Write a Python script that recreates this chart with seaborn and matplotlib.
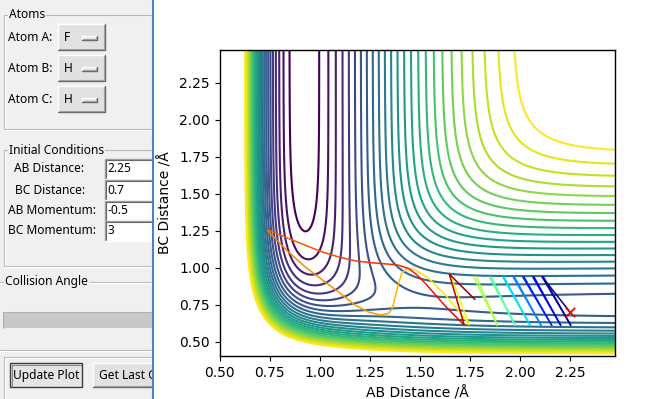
import numpy as np
import matplotlib
matplotlib.use("Agg")
import matplotlib.pyplot as plt
import seaborn as sns
from matplotlib.collections import LineCollection
from matplotlib.patches import Rectangle

# ---------------- data ----------------
# LEPS parameters (kJ/mol, Angstrom)
pair_names = ["HF", "HH", "HF"]          # AB, BC, AC
morse_D = {"HH": 432.07, "HF": 566.0}
morse_beta = {"HH": 1.942, "HF": 2.2187}
morse_re = {"HH": 0.7414, "HF": 0.9168}
sato = {"HH": 0.22, "HF": 0.12}
contour_levels = list(np.linspace(-551.0, -105.6, 25))

# trajectory (AB distance, BC distance, time fraction); nan separates loops
traj_ab = [2.25, 2.110, 2.255, 2.116, np.nan,
           2.063, 2.205, 2.069, np.nan,
           2.013, 2.160, 2.019, np.nan,
           1.965, 2.107, 1.971, np.nan,
           1.913, 2.052, 1.919, np.nan,
           1.847, 1.977, 1.855, np.nan,
           1.768, 1.888, 1.782, np.nan,
           1.652, 1.747, 1.710, 1.627, 1.543, 1.477, 1.435,
           1.410, 1.393, 1.377, 1.363, 1.343, 1.302, 1.243, 1.177, 1.093, 1.010, 0.927, 0.843, 0.777, 0.743, 0.737,
           0.752, 0.843, 0.927, 1.010, 1.093, 1.177, 1.260, 1.343, 1.393, 1.443, 1.485, 1.530, 1.627, 1.700, 1.722,
           1.647, 1.777]
traj_bc = [0.70, 0.940, 0.607, 0.940, np.nan,
           0.940, 0.607, 0.940, np.nan,
           0.940, 0.607, 0.940, np.nan,
           0.940, 0.607, 0.940, np.nan,
           0.940, 0.607, 0.940, np.nan,
           0.940, 0.607, 0.940, np.nan,
           0.940, 0.607, 0.940, np.nan,
           0.951, 0.612, 0.680, 0.816, 0.929, 0.985, 0.997,
           0.961, 0.893, 0.802, 0.724, 0.690, 0.680, 0.700, 0.746, 0.836, 0.920, 1.005, 1.107, 1.198, 1.243, 1.254,
           1.249, 1.198, 1.152, 1.107, 1.073, 1.046, 1.033, 1.024, 1.017, 0.995, 0.952, 0.890, 0.740, 0.640, 0.611,
           0.956, 0.782]
traj_t = [0.00, 0.02, 0.03, 0.04, np.nan,
          0.10, 0.10, 0.10, np.nan,
          0.16, 0.16, 0.16, np.nan,
          0.25, 0.25, 0.25, np.nan,
          0.34, 0.34, 0.34, np.nan,
          0.45, 0.45, 0.45, np.nan,
          0.56, 0.56, 0.56, np.nan,
          0.62, 0.64, 0.65, 0.66, 0.67, 0.68, 0.69,
          0.70, 0.71, 0.72, 0.73, 0.74, 0.745, 0.75, 0.755, 0.76, 0.765, 0.77, 0.775, 0.78, 0.785, 0.79,
          0.80, 0.81, 0.82, 0.83, 0.84, 0.85, 0.86, 0.87, 0.875, 0.88, 0.885, 0.89, 0.90, 0.91, 0.92,
          0.96, 1.00]
start_point = (2.25, 0.70)

x_ticks = [0.50, 0.75, 1.00, 1.25, 1.50, 1.75, 2.00, 2.25]
y_ticks = [0.50, 0.75, 1.00, 1.25, 1.50, 1.75, 2.00, 2.25]

# ---------------- surface ----------------
def pair_terms(r, name):
    D, b, re, S = morse_D[name], morse_beta[name], morse_re[name], sato[name]
    e = np.exp(-b * (r - re))
    Q = D / (4 * (1 + S)) * ((3 + S) * e ** 2 - (2 + 6 * S) * e)
    J = D / (4 * (1 + S)) * ((1 + 3 * S) * e ** 2 - (6 + 2 * S) * e)
    return Q, J

ab = np.linspace(0.5, 2.475, 500)
bc = np.linspace(0.4, 2.475, 520)
AB, BC = np.meshgrid(ab, bc)
AC = AB + BC
Q1, J1 = pair_terms(AB, pair_names[0])
Q2, J2 = pair_terms(BC, pair_names[1])
Q3, J3 = pair_terms(AC, pair_names[2])
V = Q1 + Q2 + Q3 - np.sqrt(0.5 * ((J1 - J2) ** 2 + (J2 - J3) ** 2 + (J3 - J1) ** 2))

# ---------------- figure ----------------
sns.set_style("ticks")
plt.rcParams.update({"axes.edgecolor": "black", "xtick.color": "black", "ytick.color": "black",
                     "text.color": "black", "axes.labelcolor": "black",
                     "xtick.major.size": 3.5, "ytick.major.size": 3.5,
                     "xtick.major.width": 0.8, "ytick.major.width": 0.8, "axes.linewidth": 1.0})
plt.rcParams["font.family"] = ["DejaVu Sans"]

W, H = 654, 399
fig = plt.figure(figsize=(W / 100, H / 100), dpi=100)
fig.patch.set_facecolor("white")
ax = fig.add_axes([219.7 / W, 1 - 356.3 / H, (615 - 219.7) / W, (356.3 - 49.7) / H])

viridis = sns.color_palette("viridis", as_cmap=True)
ax.contour(AB, BC, V, levels=contour_levels, cmap=viridis, linewidths=1.5)

pts = np.column_stack([traj_ab, traj_bc])
tv = np.array(traj_t)
segs, cols = [], []
for i in range(len(pts) - 1):
    if np.isnan(pts[i]).any() or np.isnan(pts[i + 1]).any():
        continue
    segs.append([pts[i], pts[i + 1]])
    cols.append(0.5 * (tv[i] + tv[i + 1]))
jet = matplotlib.colormaps["jet"]
lc = LineCollection(segs, cmap=jet, linewidths=1.1, zorder=3)
lc.set_array(np.array(cols))
lc.set_clim(0, 1)
ax.add_collection(lc)
sns.scatterplot(x=[start_point[0]], y=[start_point[1]], marker="x", color="red", s=45,
                linewidth=1.3, ax=ax, zorder=4, legend=False)

ax.set_xlim(0.5, 2.475)
ax.set_ylim(0.4, 2.475)
ax.set_xticks(x_ticks)
ax.set_yticks(y_ticks)
ax.set_xticklabels([f"{v:.2f}" for v in x_ticks], fontsize=10)
ax.set_yticklabels([f"{v:.2f}" for v in y_ticks], fontsize=10)
ax.set_xlabel("AB Distance /Å", fontsize=10, labelpad=4)
ax.set_ylabel("BC Distance /Å", fontsize=10, labelpad=5)
for s in ax.spines.values():
    s.set_visible(True)

# ---------------- GUI side panel ----------------
pw = 154
pax = fig.add_axes([0, 0, pw / W, 1])
pax.set_xlim(0, pw)
pax.set_ylim(H, 0)
pax.axis("off")
pax.add_patch(Rectangle((0, 0), pw, H, facecolor="#f0f0f0", edgecolor="none", zorder=0))
pax.plot([151.5, 151.5], [0, H], color="#b4b4b4", lw=0.8, zorder=5)
pax.plot([153.2, 153.2], [0, H], color="#4a7fc0", lw=1.4, zorder=5)

gfont = dict(family=["Noto Sans", "DejaVu Sans"], fontsize=8.6, color="black")

def groupbox(x0, y0, y1, label, lx):
    kw = dict(lw=0.8, zorder=1, solid_capstyle="butt")
    pax.plot([x0, x0, 160], [y1, y0, y0], color="#b9b9b9", **kw)
    pax.plot([x0, 160], [y1, y1], color="#b9b9b9", **kw)
    pax.plot([x0 + 1, x0 + 1], [y0 + 1, y1 - 1], color="white", **kw)
    pax.plot([x0, 160], [y1 + 1, y1 + 1], color="white", **kw)
    t = pax.text(lx, y0, label, va="center", ha="left", zorder=3, **gfont)
    t.set_bbox(dict(facecolor="#f0f0f0", edgecolor="none", pad=0.6))

def raised(x0, y0, x1, y1, face="#e1e1e1"):
    pax.add_patch(Rectangle((x0, y0), x1 - x0, y1 - y0, facecolor=face, edgecolor="none", zorder=2))
    pax.plot([x0, x0, x1], [y1, y0, y0], color="white", lw=1.0, zorder=3)
    pax.plot([x0, x1, x1], [y1, y1, y0], color="#6a6a6a", lw=1.0, zorder=3)
    pax.plot([x0 + 1, x1 - 1, x1 - 1], [y1 - 1, y1 - 1, y0 + 1], color="#a0a0a0", lw=0.8, zorder=3)

def sunken(x0, y0, x1, y1, face="white"):
    pax.add_patch(Rectangle((x0, y0), x1 - x0, y1 - y0, facecolor=face, edgecolor="none", zorder=2))
    pax.plot([x0, x0, x1], [y1, y0, y0], color="#a0a0a0", lw=1.0, zorder=3)
    pax.plot([x0 + 1, x0 + 1, x1], [y1, y0 + 1, y0 + 1], color="#696969", lw=0.8, zorder=3)
    pax.plot([x0, x1], [y1, y1], color="white", lw=1.0, zorder=3)

groupbox(4, 15, 129, "Atoms", 9)
atom_labels = ["Atom A:", "Atom B:", "Atom C:"]
atom_values = ["F", "H", "H"]
for i, (lab, val) in enumerate(zip(atom_labels, atom_values)):
    y0 = 24 + i * 31.2
    pax.text(8, y0 + 13.5, lab, va="center", ha="left", **gfont)
    raised(58, y0, 105, y0 + 26)
    pax.text(64, y0 + 13.5, val, va="center", ha="left", **gfont)
    raised(82, y0 + 11.5, 97, y0 + 15.5, face="#e8e8e8")

groupbox(4, 150, 266, "Initial Conditions", 9)
ic_labels = ["AB Distance:", "BC Distance:", "AB Momentum:", "BC Momentum:"]
ic_values = ["2.25", "0.7", "-0.5", "3"]
ic_lx = [14, 15, 8, 8]
ic_y = [159, 180, 201, 221]
for lab, val, lx, y0 in zip(ic_labels, ic_values, ic_lx, ic_y):
    pax.text(lx, y0 + 10, lab, va="center", ha="left", **gfont)
    sunken(105, y0, 165, y0 + 20)
    pax.text(107, y0 + 10, val, va="center", ha="left", zorder=4, **gfont)

# collision angle group
pax.plot([0, 160], [282, 282], color="#b9b9b9", lw=0.8, zorder=1)
pax.plot([0, 160], [283, 283], color="white", lw=0.8, zorder=1)
t = pax.text(5, 282, "Collision Angle", va="center", ha="left", zorder=3, **gfont)
t.set_bbox(dict(facecolor="#f0f0f0", edgecolor="none", pad=0.6))
pax.add_patch(Rectangle((3, 312), 160, 16, facecolor="#c8c8c8", edgecolor="none", zorder=2))
pax.plot([3, 3, 160], [328, 312, 312], color="#b0b0b0", lw=0.8, zorder=3)
pax.plot([0, 160], [350, 350], color="#b9b9b9", lw=0.8, zorder=1)
pax.plot([0, 160], [351, 351], color="white", lw=0.8, zorder=1)

# buttons group
pax.plot([4, 4, 160], [H + 5, 357, 357], color="#b9b9b9", lw=0.8, zorder=1)
pax.plot([5, 5, 160], [H + 5, 358, 358], color="white", lw=0.8, zorder=1)
pax.add_patch(Rectangle((10, 363), 72, 24, facecolor="#e5e5e5", edgecolor="#3c3c3c", lw=1.0, zorder=2))
pax.plot([11.5, 11.5, 80.5], [385.5, 364.5, 364.5], color="#8a8a8a", lw=0.8, zorder=3)
pax.text(46, 375.5, "Update Plot", va="center", ha="center", **gfont)
raised(93, 363, 170, 387)
pax.text(99, 375.5, "Get Last Geometry", va="center", ha="left", clip_on=True, **gfont)

fig.savefig("out.png", dpi=100, facecolor="white")
